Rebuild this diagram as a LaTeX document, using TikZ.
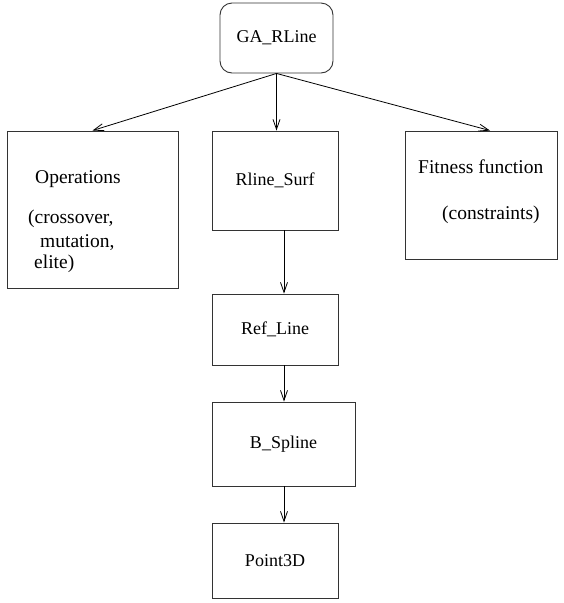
\documentclass[tikz,border=0pt]{standalone}
\usepackage{fontspec}
\setmainfont{Liberation Serif}
\newfontfamily\tnr{Liberation Serif}
\usetikzlibrary{arrows.meta}
\begin{document}
\begin{tikzpicture}[x=1pt,y=-1pt,
  box/.style={draw=black!80, line width=0.9pt, inner sep=0pt, font=\tnr\fontsize{18}{22}\selectfont},
  lbl/.style={inner sep=0pt, anchor=base west, font=\tnr\fontsize{19.5}{23}\selectfont},
  arr/.style={draw=black, line width=0.8pt, -{Straight Barb[length=10pt,width=7pt,line width=0.8pt]}}]
\useasboundingbox (0,0) rectangle (564,603);
\node[box, rounded corners=12pt, minimum width=113pt, minimum height=70pt] (ga) at (276.5,38) {GA\_RLine};
\node[box, minimum width=171pt, minimum height=157pt] (ops) at (92.5,209.5) {};
\node[box, minimum width=126pt, minimum height=99pt] (rs) at (275,180.5) {Rline\_Surf};
\node[box, minimum width=152pt, minimum height=128pt] (fit) at (481,195) {};
\node[box, minimum width=126pt, minimum height=71pt] (rl) at (275,329.5) {Ref\_Line};
\node[box, minimum width=143pt, minimum height=84pt] (bs) at (283.5,444) {B\_Spline};
\node[box, minimum width=126pt, minimum height=75pt] (pt) at (275,560.5) {Point3D};
\node[lbl] (t1) at (35,183) {Operations};
\node[lbl] (t2) at (28,223) {(crossover,};
\node[lbl] (t3) at (40,247) {mutation,};
\node[lbl] (t4) at (34,268) {elite)};
\node[lbl] (t5) at (418,173) {Fitness function};
\node[lbl] (t6) at (442,219) {(constraints)};
\draw[arr] (ga.south) -- (ops.north);
\draw[arr] (ga.south) -- (ga.south |- rs.north);
\draw[arr] (ga.south) -- ([xshift=9pt]fit.north);
\draw[arr] ([xshift=9pt]rs.south) -- ([xshift=9pt]rs.south |- rl.north);
\draw[arr] ([xshift=9pt]rl.south) -- ([xshift=9pt]rl.south |- bs.north);
\draw[arr] ([xshift=9pt]rs.south |- bs.south) -- ([xshift=9pt]rs.south |- pt.north);
\end{tikzpicture}
\end{document}
